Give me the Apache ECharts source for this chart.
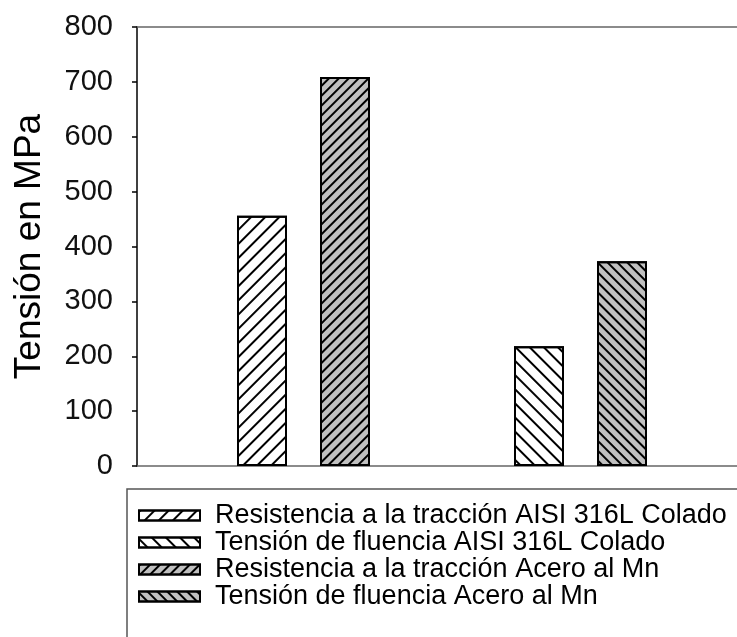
<!DOCTYPE html>
<html>
<head>
<meta charset="utf-8">
<script src="https://cdn.jsdelivr.net/npm/echarts@6/dist/echarts.min.js"></script>
<style>html,body{margin:0;padding:0;background:#fff}#c{width:737px;height:637px}</style>
</head>
<body>
<div id="c"></div>
<script>
var categories = ['Resistencia a la tracción', 'Tensión de fluencia'];
var seriesNames = [
  'Resistencia a la tracción AISI 316L Colado',
  'Tensión de fluencia AISI 316L Colado',
  'Resistencia a la tracción Acero al Mn',
  'Tensión de fluencia Acero al Mn'
];
var aisiTraccion = [456, null];
var aisiFluencia = [null, 218];
var mnTraccion = [709, null];
var mnFluencia = [null, 373];
var yTicks = [0, 100, 200, 300, 400, 500, 600, 700, 800];
var yName = 'Tensión en MPa';

var FONT = 'Liberation Sans, Arial, sans-serif';
var chart = echarts.init(document.getElementById('c'), null, {renderer: 'canvas'});

function hatch(rot, gap) {
  return {symbol: 'rect', symbolSize: 1, color: '#000', dashArrayX: [1, 0], dashArrayY: [2, gap], rotation: rot};
}
var FWD = -Math.PI / 4, BACK = Math.PI / 4;

function barSeries(name, data, stack, fill, dec) {
  return {
    name: name, type: 'bar', xAxisIndex: 2, yAxisIndex: 1, stack: stack,
    data: data, barWidth: 50, barGap: '66%',
    itemStyle: {color: fill, borderColor: '#000', borderWidth: 2, decal: dec},
    emphasis: {disabled: true}
  };
}

chart.setOption({
  animation: false,
  backgroundColor: '#fff',
  grid: [
    {left: 137, right: -2, top: 27, bottom: 171},
    {left: 165, width: 554, top: 27, bottom: 171}
  ],
  xAxis: [
    {type: 'category', gridIndex: 0, data: categories, position: 'bottom',
     axisLine: {lineStyle: {color: '#666', width: 1.5}}, axisTick: {show: false}, axisLabel: {show: false}},
    {type: 'category', gridIndex: 0, data: categories, position: 'top',
     axisLine: {lineStyle: {color: '#666', width: 1.5}}, axisTick: {show: false}, axisLabel: {show: false}},
    {type: 'category', gridIndex: 1, data: categories, show: false}
  ],
  yAxis: [
    {type: 'value', gridIndex: 0, min: yTicks[0], max: yTicks[yTicks.length - 1], interval: 100,
     name: yName, nameLocation: 'middle', nameGap: 89,
     nameTextStyle: {fontSize: 37, color: '#000', fontFamily: FONT},
     axisLine: {show: true, lineStyle: {color: '#000', width: 1.5}},
     axisTick: {show: true, length: 5, lineStyle: {color: '#000', width: 1.5}},
     axisLabel: {fontSize: 29, color: '#111', fontFamily: FONT, margin: 24},
     splitLine: {show: false}},
    {type: 'value', gridIndex: 1, min: 0, max: 800, interval: 100, show: false, splitLine: {show: false}}
  ],
  legend: {
    orient: 'vertical', left: 127, top: 489, width: 900, height: 500,
    padding: [13, 80, 60, 11],
    itemWidth: 61, itemHeight: 10, itemGap: 0,
    icon: 'rect',
    borderColor: '#555', borderWidth: 1.5,
    textStyle: {fontSize: 27, color: '#000', fontFamily: FONT, lineHeight: 27, padding: [0, 0, 0, 10]},
    data: seriesNames,
    selectedMode: false
  },
  series: [
    barSeries(seriesNames[0], aisiTraccion, 'a', '#fff', hatch(FWD, 7.4)),
    barSeries(seriesNames[1], aisiFluencia, 'a', '#fff', hatch(BACK, 8)),
    barSeries(seriesNames[2], mnTraccion, 'b', '#c0c0c0', hatch(FWD, 4.5)),
    barSeries(seriesNames[3], mnFluencia, 'b', '#c0c0c0', hatch(BACK, 5))
  ]
});
</script>
</body>
</html>
